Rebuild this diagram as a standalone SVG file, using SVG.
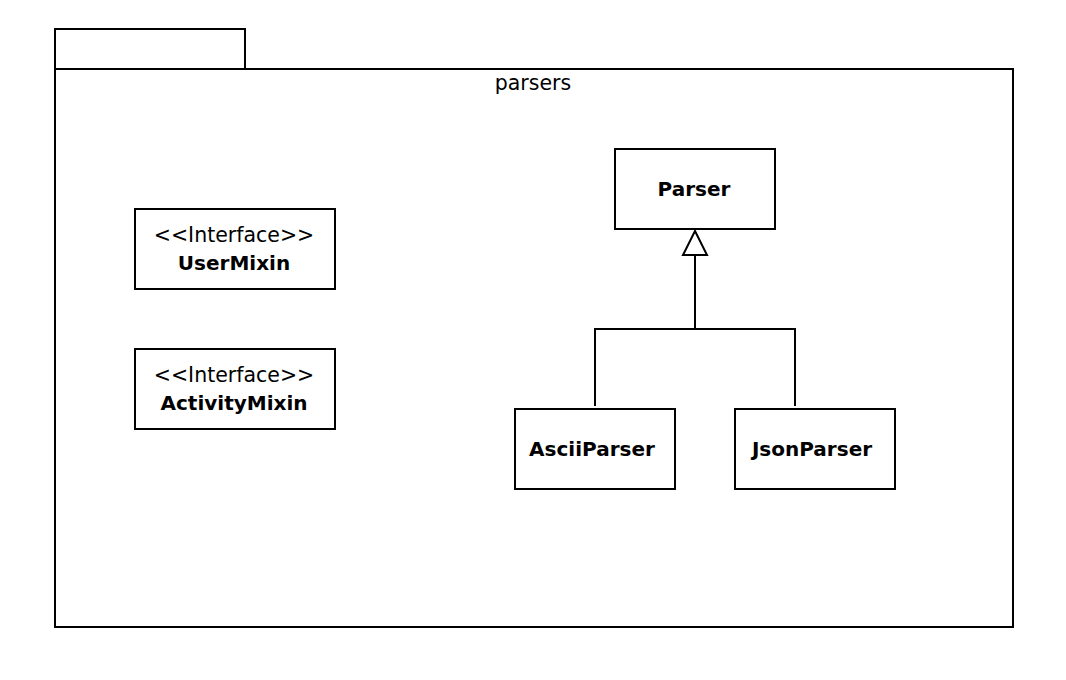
<svg xmlns="http://www.w3.org/2000/svg" width="1066" height="680" viewBox="0 0 1066 680">
<style>
.box{fill:#fff;stroke:#000;stroke-width:2}
.t{font-family:"DejaVu Sans","Liberation Sans",sans-serif;font-size:20.5px;fill:#000;text-anchor:middle}
.b{font-weight:bold;font-size:20px}
.ln{fill:none;stroke:#000;stroke-width:2}
</style>
<rect width="1066" height="680" fill="#fff"/>
<g id="pkg-parsers">
<rect class="box" x="55" y="29" width="190" height="40"/>
<rect class="box" x="55" y="69" width="958" height="558"/>
<text class="t" x="533" y="90">parsers</text>
</g>
<g id="UserMixin">
<rect class="box" x="135" y="209" width="200" height="80"/>
<text class="t" x="234" y="242">&lt;&lt;Interface&gt;&gt;</text>
<text class="t b" x="234" y="270">UserMixin</text>
</g>
<g id="ActivityMixin">
<rect class="box" x="135" y="349" width="200" height="80"/>
<text class="t" x="234" y="382">&lt;&lt;Interface&gt;&gt;</text>
<text class="t b" x="234" y="410">ActivityMixin</text>
</g>
<g id="Parser">
<rect class="box" x="615" y="149" width="160" height="80"/>
<text class="t b" x="694" y="196">Parser</text>
</g>
<g id="AsciiParser">
<rect class="box" x="515" y="409" width="160" height="80"/>
<text class="t b" x="592" y="456">AsciiParser</text>
</g>
<g id="JsonParser">
<rect class="box" x="735" y="409" width="160" height="80"/>
<text class="t b" x="812" y="456">JsonParser</text>
</g>
<g id="connectors">
<polyline class="ln" points="595,406 595,329 795,329 795,406"/>
<line class="ln" x1="695" y1="329" x2="695" y2="255"/>
<polygon points="695,231 707,255 683,255" fill="#fff" stroke="#000" stroke-width="2"/>
</g>
</svg>
